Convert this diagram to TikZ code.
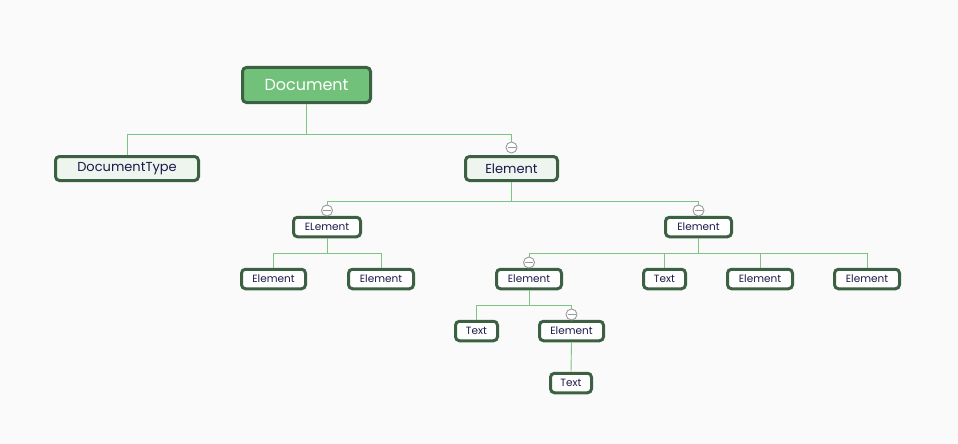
\documentclass[tikz,border=0pt]{standalone}
\usepackage{fontspec}
\setmainfont{Poppins}
\definecolor{bg}{HTML}{FAFAFA}
\definecolor{bord}{HTML}{3C6142}
\definecolor{docfill}{HTML}{72C17A}
\definecolor{lightfill}{HTML}{EEF5EE}
\definecolor{conn}{HTML}{7DC383}
\definecolor{txt}{HTML}{1A1A4A}
\definecolor{mgray}{HTML}{9A9A9A}
\begin{document}
\begin{tikzpicture}[x=1pt,y=-1pt,
  box/.style={draw=bord,line width=3pt,rounded corners=4pt,inner sep=0pt,text=txt},
  docbox/.style={box,fill=docfill,minimum width=128pt,minimum height=35pt,text=white,font=\fontsize{16}{18}\selectfont},
  lvlbox/.style={box,fill=lightfill,minimum height=24pt,font=\fontsize{13}{15}\selectfont},
  leaf/.style={box,fill=white,minimum height=19.5pt,font=\fontsize{10.5}{12}\selectfont},
  conline/.style={draw=conn,line width=0.9pt},
  minus/.style={circle,draw=mgray,fill=white,line width=0.9pt,minimum size=11pt,inner sep=0pt,
    path picture={\draw[mgray,line width=0.9pt] ([xshift=-4pt]path picture bounding box.center) -- ([xshift=4pt]path picture bounding box.center);}}
]
\fill[bg] (0,0) rectangle (958,444);
\useasboundingbox (0,0) rectangle (958,444);

% nodes
\node[docbox] (doc) at (306.5,85) {Document};
\node[lvlbox,minimum width=143pt] (dt) at (127,168.5) {DocumentType};
\node[lvlbox,minimum width=92pt] (e1) at (511.5,168.5) {Element};
\node[leaf,minimum width=67pt] (eL) at (327,227) {ELement};
\node[leaf,minimum width=66pt] (eR) at (698.5,227) {Element};
\node[leaf,minimum width=64pt] (a1) at (273.5,279) {Element};
\node[leaf,minimum width=65pt] (a2) at (381,279) {Element};
\node[leaf,minimum width=65pt] (b1) at (529,279) {Element};
\node[leaf,minimum width=42pt] (b2) at (664.5,279) {Text};
\node[leaf,minimum width=65pt] (b3) at (760,279) {Element};
\node[leaf,minimum width=65pt] (b4) at (867,279) {Element};
\node[leaf,minimum width=42pt] (c1) at (476.5,331) {Text};
\node[leaf,minimum width=64pt] (c2) at (571.5,331) {Element};
\node[leaf,minimum width=41pt] (d1) at (571,383) {Text};

% collapse markers
\node[minus] (m1) at (511.5,147.5) {};
\node[minus] (m2) at (327,210.5) {};
\node[minus] (m3) at (698.5,210.5) {};
\node[minus] (m4) at (529,262.5) {};
\node[minus] (m5) at (571.5,314.5) {};

% junction coordinates
\coordinate (j0) at (306.5,134);
\coordinate (j1) at (511.5,201);
\coordinate (j2) at (327,253);
\coordinate (j3) at (698.5,253);
\coordinate (j4) at (529,305);

% connectors
\draw[conline] (doc.south) -- (j0);
\draw[conline] (j0) -| (dt.north);
\draw[conline] (j0) -| (m1.north);
\draw[conline] (e1.south) -- (j1);
\draw[conline] (j1) -| (m2.north);
\draw[conline] (j1) -| (m3.north);
\draw[conline] (eL.south) -- (j2);
\draw[conline] (j2) -| (a1.north);
\draw[conline] (j2) -| (a2.north);
\draw[conline] (eR.south) -- (j3);
\draw[conline] (j3) -| (m4.north);
\draw[conline] (j3) -| (b2.north);
\draw[conline] (j3) -| (b3.north);
\draw[conline] (j3) -| (b4.north);
\draw[conline] (b1.south) -- (j4);
\draw[conline] (j4) -| (c1.north);
\draw[conline] (j4) -| (m5.north);
\draw[conline] (c2.south) -- (d1.north);
\end{tikzpicture}
\end{document}
